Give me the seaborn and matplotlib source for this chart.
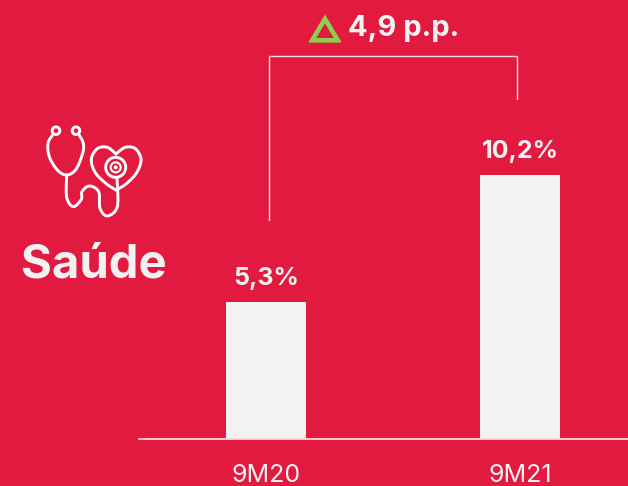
import numpy as np
import pandas as pd
import matplotlib
matplotlib.use("Agg")
import matplotlib.pyplot as plt
from matplotlib.patches import Circle, Polygon
import seaborn as sns

# dados
periods = ["9M20", "9M21"]
values = [5.3, 10.2]
value_labels = ["5,3%", "10,2%"]
title_text = "Saúde"
delta_text = "4,9 p.p."

BG = "#E21A40"
BAR = "#F2F2F2"
GREEN = "#8CCF4D"
W, H = 628, 486

sns.set_theme(style="white")
plt.rcParams["font.family"] = ["Inter", "DejaVu Sans"]


def smooth(points, n=16):
    # catmull-rom simples para o desenho do icone
    p = np.array(points, dtype=float)
    p = np.vstack([p[0], p, p[-1]])
    out = []
    for i in range(1, len(p) - 2):
        for t in np.linspace(0, 1, n, endpoint=False):
            out.append(0.5 * (2 * p[i] + (p[i + 1] - p[i - 1]) * t
                              + (2 * p[i - 1] - 5 * p[i] + 4 * p[i + 1] - p[i + 2]) * t ** 2
                              + (3 * p[i] - p[i - 1] - 3 * p[i + 1] + p[i + 2]) * t ** 3))
    out.append(p[-2])
    return np.array(out)


def zoomed(points):
    # coordenadas lidas no recorte 3x do icone
    return [(20 + x / 3, 110 + y / 3) for x, y in points]


def main():
    fig = plt.figure(figsize=(W / 100, H / 100), dpi=100, facecolor=BG)
    ax = fig.add_axes([138.5 / W, (H - 439) / H, (W - 138.5) / W, 439 / H], facecolor=BG)

    df = pd.DataFrame({"period": periods, "value": values})
    sns.barplot(data=df, x="period", y="value", color=BAR, saturation=1, width=0.315,
                linewidth=0, edgecolor="none", ax=ax)
    ax.set_xlim(-0.502, 1.425)
    ax.set_ylim(0, 439 / 25.9)
    ax.set_xlabel("")
    ax.set_ylabel("")
    ax.set_yticks([])
    ax.tick_params(axis="x", length=0, pad=18, labelsize=18, labelcolor=BAR)
    sns.despine(ax=ax, left=True)
    ax.spines["bottom"].set_color("#F5D5DB")
    ax.spines["bottom"].set_linewidth(1.3)
    ax.bar_label(ax.containers[0], labels=value_labels, padding=8.5,
                 fontsize=18, fontweight="bold", color=BAR)

    # camada em pixels para chave, triangulo e icone
    ov = fig.add_axes([0, 0, 1, 1], facecolor="none")
    ov.set_xlim(0, W)
    ov.set_ylim(H, 0)
    ov.axis("off")

    ov.plot([268.5, 268.5, 517, 517], [220, 56, 56, 99], color="#F5DDE1", lw=1, solid_joinstyle="miter")
    ov.add_patch(Polygon([(312.2, 40.3), (337.8, 40.3), (325, 18.9)], closed=True, fill=False,
                         edgecolor=GREEN, lw=3.3, joinstyle="miter"))
    ov.text(348, 29, delta_text, fontsize=21, fontweight="bold", color=BAR, ha="left", va="center")
    ov.text(94, 277, title_text, fontsize=34, fontweight="bold", color=BAR, ha="center", va="baseline")

    # icone do estetoscopio
    lw = 2.1
    white = "white"
    tube = zoomed([(97, 76), (84, 100), (88, 140), (112, 180), (140, 195), (168, 178),
                   (188, 130), (190, 100), (178, 76)])
    hose = zoomed([(140, 195), (140, 262), (160, 290), (184, 268), (186, 245), (208, 228),
                   (236, 245), (240, 295), (262, 318), (292, 290), (291, 205)])
    heart_l = zoomed([(288, 132), (262, 112), (232, 116), (214, 148), (226, 188), (260, 222), (288, 240)])
    heart_r = zoomed([(288, 132), (316, 112), (346, 116), (363, 148), (350, 188), (318, 222), (288, 240)])
    for pts in (tube, hose, heart_l, heart_r):
        s = smooth(pts)
        ov.plot(s[:, 0], s[:, 1], color=white, lw=lw, solid_capstyle="round")
    for cx in (56, 76):
        ov.add_patch(Circle((cx, 130.7), 3.8, fill=False, edgecolor=white, lw=lw))
    cx, cy = zoomed([(287, 172)])[0]
    ov.add_patch(Circle((cx, cy), 10, facecolor=BG, edgecolor=white, lw=lw))
    ov.add_patch(Circle((cx, cy), 5, fill=False, edgecolor=white, lw=1.5))
    ov.add_patch(Circle((cx, cy), 1.3, color=white))

    fig.savefig("out.png", dpi=100, facecolor=BG)


if __name__ == "__main__":
    main()
